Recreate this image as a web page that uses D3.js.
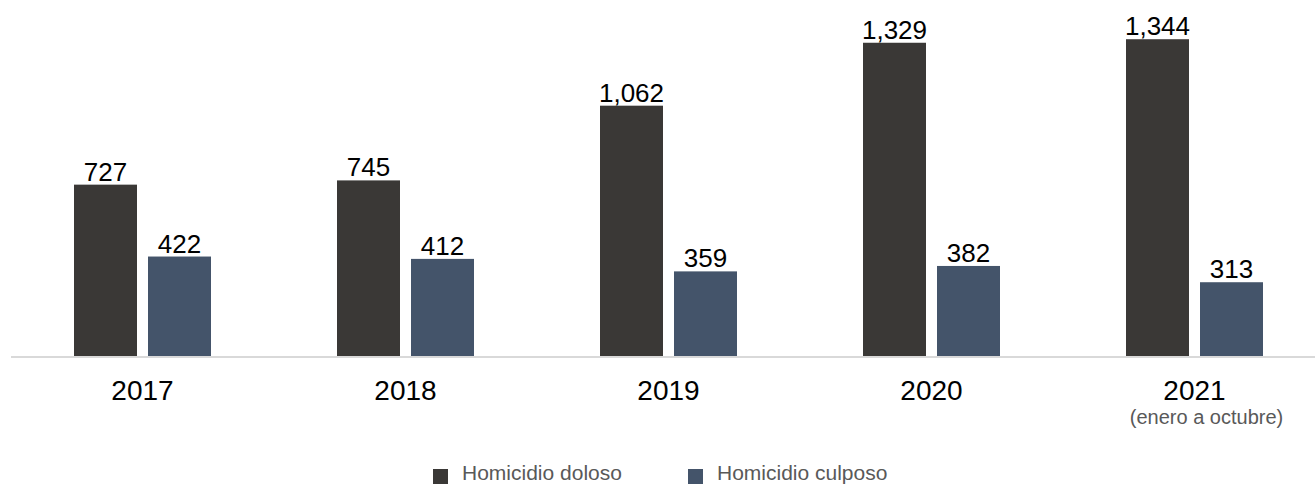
<!DOCTYPE html>
<html>
<head>
<meta charset="utf-8">
<script src="https://cdn.jsdelivr.net/npm/d3@7"></script>
<style>
  body { margin: 0; background: #fff; overflow: hidden; }
  text { font-family: "Liberation Sans", Arial, Helvetica, sans-serif; }
</style>
</head>
<body>
<svg id="chart"></svg>
<script>
var years = ['2017', '2018', '2019', '2020', '2021'];
var yearNotes = ['', '', '', '', '(enero a octubre)'];
var seriesNames = ['Homicidio doloso', 'Homicidio culposo'];
var doloso = [727, 745, 1062, 1329, 1344];
var culposo = [422, 412, 359, 382, 313];
var colors = ['#3a3836', '#44546a'];

var width = 1315, height = 485;
var baseY = 356;

var svg = d3.select('#chart')
  .attr('width', width)
  .attr('height', height)
  .style('display', 'block');

var x0 = d3.scaleBand()
  .domain(years)
  .range([11, 1326]);

var x1 = d3.scaleBand()
  .domain(seriesNames)
  .range([63, 200])
  .paddingInner(11 / 74);

var y = d3.scaleLinear()
  .domain([0, 1400])
  .range([baseY, baseY - 1400 * 0.2357]);

var rows = years.map(function (yr, i) {
  return {
    year: yr,
    note: yearNotes[i],
    values: [
      { name: seriesNames[0], value: doloso[i], color: colors[0] },
      { name: seriesNames[1], value: culposo[i], color: colors[1] }
    ]
  };
});

var groups = svg.selectAll('g.year')
  .data(rows)
  .enter()
  .append('g')
  .attr('class', 'year')
  .attr('transform', function (d) { return 'translate(' + x0(d.year) + ',0)'; });

groups.selectAll('rect')
  .data(function (d) { return d.values; })
  .enter()
  .append('rect')
  .attr('x', function (d) { return x1(d.name); })
  .attr('y', function (d) { return y(d.value); })
  .attr('width', x1.bandwidth())
  .attr('height', function (d) { return y(0) - y(d.value); })
  .attr('fill', function (d) { return d.color; });

groups.selectAll('text.val')
  .data(function (d) { return d.values; })
  .enter()
  .append('text')
  .attr('class', 'val')
  .attr('x', function (d) { return x1(d.name) + x1.bandwidth() / 2; })
  .attr('y', function (d) { return y(d.value) - 4; })
  .attr('text-anchor', 'middle')
  .attr('font-size', '26px')
  .attr('fill', '#000')
  .text(function (d) { return d3.format(',')(d.value); });

// baseline
svg.append('line')
  .attr('x1', 11)
  .attr('x2', width)
  .attr('y1', baseY + 1)
  .attr('y2', baseY + 1)
  .attr('stroke', '#d9d9d9')
  .attr('stroke-width', 2);

// category labels
groups.append('text')
  .attr('x', x0.bandwidth() / 2)
  .attr('y', 400)
  .attr('text-anchor', 'middle')
  .attr('font-size', '28px')
  .attr('fill', '#000')
  .text(function (d) { return d.year; });

groups.append('text')
  .attr('x', x0.bandwidth() / 2 + 12)
  .attr('y', 424)
  .attr('text-anchor', 'middle')
  .attr('font-size', '20px')
  .attr('fill', '#595959')
  .text(function (d) { return d.note; });

// legend
var legendX = [433, 688];
var legend = svg.selectAll('g.legend')
  .data(seriesNames)
  .enter()
  .append('g')
  .attr('class', 'legend')
  .attr('transform', function (d, i) { return 'translate(' + legendX[i] + ',469)'; });

legend.append('rect')
  .attr('width', 15)
  .attr('height', 15)
  .attr('fill', function (d, i) { return colors[i]; });

legend.append('text')
  .attr('x', 29)
  .attr('y', 11)
  .attr('font-size', '21px')
  .attr('fill', '#595959')
  .text(function (d) { return d; });
</script>
</body>
</html>
